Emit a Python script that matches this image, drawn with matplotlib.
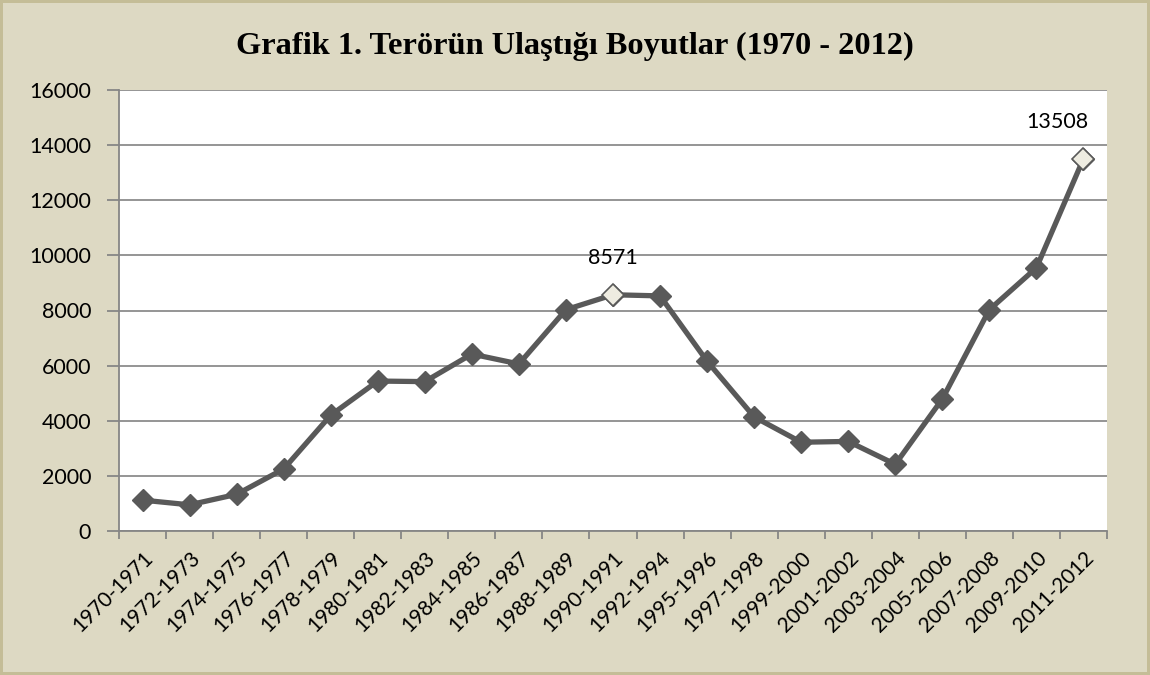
import matplotlib
matplotlib.use("Agg")
import matplotlib.pyplot as plt
import numpy as np

categories = ["1970-1971", "1972-1973", "1974-1975", "1976-1977", "1978-1979",
              "1980-1981", "1982-1983", "1984-1985", "1986-1987", "1988-1989",
              "1990-1991", "1992-1994", "1995-1996", "1997-1998", "1999-2000",
              "2001-2002", "2003-2004", "2005-2006", "2007-2008", "2009-2010",
              "2011-2012"]
values = [1120, 950, 1330, 2250, 4200, 5440, 5420, 6420, 6060, 8030,
          8571, 8530, 6160, 4140, 3220, 3250, 2420, 4790, 8030, 9550, 13508]
labeled = {10: "8571", 20: "13508"}
yticks = [0, 2000, 4000, 6000, 8000, 10000, 12000, 14000, 16000]
title = "Grafik 1. Terörün Ulaştığı Boyutlar (1970 - 2012)"

W, H = 1150, 675
fig = plt.figure(figsize=(W/100, H/100), dpi=100)
fig.patch.set_facecolor("#DDD9C3")
fig.patch.set_edgecolor("#C4BD97")
fig.patch.set_linewidth(3)

ax = fig.add_axes([119/W, 1-531/H, (1107-119)/W, (531-90)/H])
ax.set_facecolor("white")
x = np.arange(len(categories))
ax.plot(x, values, color="#595959", lw=3.8, marker="D", ms=11.5,
        mfc="#595959", mec="#595959", zorder=3, clip_on=False)
label_shift = {10: 0, 20: -19}
for i, t in labeled.items():
    ax.plot(x[i], values[i], marker="D", ms=11.5, mfc="#EEECE1", mec="#595959",
            mew=1.2, zorder=4, clip_on=False)
    ax.annotate(t, (x[i], values[i]), xytext=(label_shift[i], 26.5),
                textcoords="offset points", ha="center", va="center",
                fontsize=15.5, family="Lato", color="black")

ax.set_xlim(-0.5, len(categories)-0.5)
ax.set_ylim(0, 16000)
ax.set_yticks(yticks)
ax.set_yticklabels([str(v) for v in yticks], fontsize=15.5, family="Lato")
ax.set_xticks(np.arange(len(categories)+1)-0.5)
ax.set_xticklabels([])
ax.set_xticks(x, minor=True)
ax.set_xticklabels(categories, minor=True, rotation=45, ha="right",
                   rotation_mode="anchor", fontsize=15, family="Lato")
ax.tick_params(axis="x", which="minor", length=0, pad=12)
ax.tick_params(axis="x", which="major", length=6, color="#868686", width=1.3)
ax.tick_params(axis="y", length=9, color="#868686", width=1.3, pad=11)
ax.grid(axis="y", color="#8C8C8C", lw=1.3)
ax.set_axisbelow(True)
for s in ["top", "right"]:
    ax.spines[s].set_visible(False)
for s in ["left", "bottom"]:
    ax.spines[s].set_color("#868686")
    ax.spines[s].set_linewidth(1.3)

fig.text(0.5, 1-46/H, title, ha="center", va="center", fontsize=23.3,
         fontweight="bold", family="Liberation Serif")

fig.savefig("out.png", dpi=100, facecolor=fig.get_facecolor(),
            edgecolor=fig.get_edgecolor())
